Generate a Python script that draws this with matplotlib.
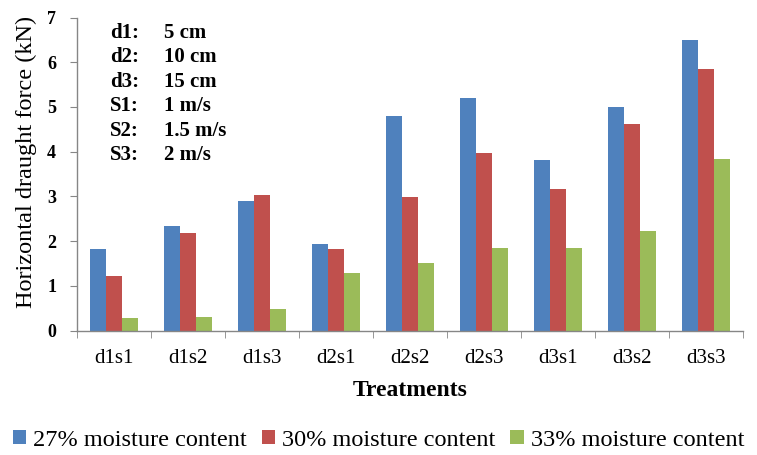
import numpy as np
import matplotlib
matplotlib.use("Agg")
import matplotlib.pyplot as plt
from matplotlib.patches import Patch

plt.rcParams['font.family'] = ['Liberation Serif', 'DejaVu Serif']

treatments = ["d1s1", "d1s2", "d1s3", "d2s1", "d2s2", "d2s3", "d3s1", "d3s2", "d3s3"]
moist_27 = [1.82, 2.33, 2.90, 1.94, 4.80, 5.21, 3.82, 5.00, 6.50]
moist_30 = [1.21, 2.19, 3.02, 1.82, 2.98, 3.97, 3.16, 4.61, 5.84]
moist_33 = [0.29, 0.31, 0.47, 1.29, 1.50, 1.84, 1.84, 2.23, 3.83]
series_names = ["27% moisture content", "30% moisture content", "33% moisture content"]
colors = ["#4F81BD", "#C0504D", "#9BBB59"]

key_labels = ["d1:", "d2:", "d3:", "S1:", "S2:", "S3:"]
key_values = ["5 cm", "10 cm", "15 cm", "1 m/s", "1.5 m/s", "2 m/s"]

fig = plt.figure(figsize=(7.57, 4.55), dpi=100)
ax = fig.add_axes([0.1017, 0.2736, 0.8798, 0.6879])

x = np.arange(len(treatments))
w = 0.217
for i, (vals, c) in enumerate(zip([moist_27, moist_30, moist_33], colors)):
    ax.bar(x + (i - 1) * w, vals, width=w, color=c, edgecolor='none')

ax.set_xlim(-0.5, len(treatments) - 0.5)
ax.set_ylim(0, 7)
ax.set_yticks(range(0, 8))
ax.set_yticklabels([str(v) for v in range(0, 8)], fontsize=13, fontweight='bold')

# category labels at centres, tick marks on the boundaries
ax.set_xticks(x)
ax.set_xticklabels(treatments, fontsize=15)
ax.set_xticks(np.arange(-0.5, len(treatments)), minor=True)
ax.tick_params(axis='x', which='major', length=0, pad=13)
ax.tick_params(axis='x', which='minor', length=5, color='#868686', direction='out')
ax.tick_params(axis='y', length=5, color='#868686', direction='out', pad=10)

for s in ['top', 'right']:
    ax.spines[s].set_visible(False)
for s in ['left', 'bottom']:
    ax.spines[s].set_color('#868686')
    ax.spines[s].set_linewidth(1.0)

ax.set_ylabel("Horizontal draught force (kN)", fontsize=17.5)
ax.yaxis.set_label_coords(-0.06, 0.54)
ax.set_xlabel("Treatments", fontsize=17, fontweight='bold', labelpad=9)

# key for depth / speed codes
for k, (lab, val) in enumerate(zip(key_labels, key_values)):
    yy = 1 - (33 + k * 24.4) / 455
    fig.text(110 / 757, yy, lab, fontsize=15, fontweight='bold', va='center')
    fig.text(164 / 757, yy, val, fontsize=15, fontweight='bold', va='center')

handles = [Patch(facecolor=c, edgecolor='none') for c in colors]
fig.legend(handles, series_names, loc='center', bbox_to_anchor=(0.5, 1 - 440 / 455),
           ncol=3, frameon=False, fontsize=17.5, handlelength=0.55, handleheight=0.55,
           handletextpad=0.3, columnspacing=0.6, borderaxespad=0)

fig.savefig("out.png", dpi=100)
